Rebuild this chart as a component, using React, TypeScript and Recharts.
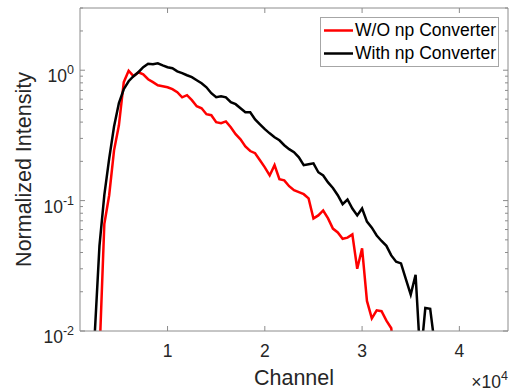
import React from 'react'
import { LineChart, Line, XAxis, YAxis, Legend } from 'recharts'

const channels = [
  2500, 3000, 3500, 4000, 4500, 5000, 5500, 6000, 6500, 7000,
  7500, 8000, 8500, 9000, 9500, 10000, 10500, 11000, 11500, 12000,
  12500, 13000, 13500, 14000, 14500, 15000, 15500, 16000, 16500, 17000,
  17500, 18000, 18500, 19000, 19500, 20000, 20500, 21000, 21500, 22000,
  22500, 23000, 23500, 24000, 24500, 25000, 25500, 26000, 26500, 27000,
  27500, 28000, 28500, 29000, 29500, 30000, 30500, 31000, 31500, 32000,
  32500, 33000, 33500, 34000, 34500, 35000, 35500, 36000, 36500, 37000,
  37500,
]

// W/O np Converter (red)
const withoutConverter = [
  null, 0.0065, 0.066, 0.11, 0.243, 0.378, 0.81, 0.99, 0.9, 0.965,
  0.93, 0.853, 0.81, 0.767, 0.754, 0.74, 0.715, 0.678, 0.62, 0.643,
  0.589, 0.53, 0.511, 0.46, 0.452, 0.399, 0.392, 0.405, 0.365, 0.323,
  0.295, 0.26, 0.24, 0.231, 0.204, 0.18, 0.156, 0.187, 0.146, 0.143,
  0.129, 0.12, 0.116, 0.112, 0.104, 0.073, 0.077, 0.084, 0.073, 0.061,
  0.057, 0.051, 0.052, 0.055, 0.03, 0.043, 0.017, 0.0125, 0.0144, 0.0142,
  0.012, 0.0105, 0.004, null, null, null, null, null, null, null,
  null,
]

// With np Converter (black)
const withConverter = [
  0.009, 0.045, 0.11, 0.21, 0.37, 0.56, 0.715, 0.823, 0.9, 0.965,
  1.054, 1.12, 1.11, 1.13, 1.09, 1.054, 1.036, 0.98, 0.95, 0.915,
  0.884, 0.838, 0.795, 0.74, 0.666, 0.62, 0.63, 0.62, 0.568, 0.549,
  0.511, 0.476, 0.476, 0.42, 0.385, 0.353, 0.328, 0.306, 0.29, 0.266,
  0.248, 0.235, 0.215, 0.187, 0.19, 0.193, 0.165, 0.156, 0.138, 0.125,
  0.11, 0.094, 0.102, 0.087, 0.077, 0.087, 0.069, 0.062, 0.054, 0.049,
  0.045, 0.038, 0.034, 0.033, 0.025, 0.019, 0.027, 0.006, 0.015, 0.0148,
  0.0075,
]

const xTicks = [10000, 20000, 30000, 40000]
const yTicks = [
  0.01, 0.02, 0.03, 0.04, 0.05, 0.06, 0.07, 0.08, 0.09,
  0.1, 0.2, 0.3, 0.4, 0.5, 0.6, 0.7, 0.8, 0.9,
  1, 2, 3,
]
const yMajorLabels: Record<string, string> = { '0.01': '-2', '0.1': '-1', '1': '0' }

const data = channels.map((c, i) => ({
  channel: c,
  without: withoutConverter[i],
  with: withConverter[i],
}))

const FONT = '"Liberation Sans", Arial, sans-serif'
const AXIS = '#8c8c8c'
const TEXT = '#262626'

const isMajor = (v: number) => yMajorLabels[String(v)] !== undefined

function LeftTick({ x, y, payload }: any) {
  const v = payload.value
  const major = isMajor(v)
  return (
    <g>
      <line x1={x} x2={x + (major ? 5 : 3)} y1={y} y2={y} stroke={AXIS} />
      {major && (
        <text x={x - 6} y={y + 12} textAnchor="end" fill={TEXT} fontFamily={FONT} fontSize={17.5}>
          10<tspan dy={-8} fontSize={12.5}>{yMajorLabels[String(v)]}</tspan>
        </text>
      )}
    </g>
  )
}

function RightTick({ x, y, payload }: any) {
  const major = isMajor(payload.value)
  return <line x1={x} x2={x - (major ? 5 : 3)} y1={y} y2={y} stroke={AXIS} />
}

function BottomTick({ x, y, payload }: any) {
  return (
    <g>
      <line x1={x} x2={x} y1={y} y2={y - 5} stroke={AXIS} />
      <text x={x} y={y + 26} textAnchor="middle" fill={TEXT} fontFamily={FONT} fontSize={17.5}>
        {payload.value / 10000}
      </text>
    </g>
  )
}

function TopTick({ x, y }: any) {
  return <line x1={x} x2={x} y1={y} y2={y + 5} stroke={AXIS} />
}

function XLabel({ viewBox }: any) {
  const { x, y, width } = viewBox
  return (
    <g fontFamily={FONT} fill={TEXT}>
      <text x={x + width / 2} y={y + 54} textAnchor="middle" fontSize={21.5}>Channel</text>
      <text x={x + width} y={y + 57} textAnchor="end" fontSize={17.5}>
        ×10<tspan dy={-8} fontSize={12.5}>4</tspan>
      </text>
    </g>
  )
}

function YLabel({ viewBox }: any) {
  const { x, y, height } = viewBox
  const cx = x + 31
  const cy = y + height / 2
  return (
    <text x={cx} y={cy} transform={`rotate(-90 ${cx} ${cy})`} textAnchor="middle"
      fontFamily={FONT} fontSize={21.5} fill={TEXT}>
      Normalized Intensity
    </text>
  )
}

function LegendBox({ payload }: any) {
  return (
    <div style={{
      boxSizing: 'border-box', width: 179, height: 50, border: '1px solid #a6a6a6',
      background: '#fff', display: 'flex', flexDirection: 'column', justifyContent: 'center',
      fontFamily: FONT, fontSize: 17.5, color: '#000',
    }}>
      {(payload || []).map((p: any) => (
        <div key={p.value} style={{ display: 'flex', alignItems: 'center', height: 23 }}>
          <svg width={34} height={23} style={{ display: 'block' }}>
            <line x1={3} x2={32} y1={11.5} y2={11.5} stroke={p.color} strokeWidth={2.5} />
          </svg>
          <span style={{ lineHeight: '23px', whiteSpace: 'nowrap' }}>{p.value}</span>
        </div>
      ))}
    </div>
  )
}

export default function App() {
  return (
    <div style={{ position: 'absolute', left: 0, top: 0, background: '#fff' }}>
      <LineChart width={512} height={392} data={data} margin={{ top: 0, right: 0, bottom: 0, left: 0 }}>
        <XAxis xAxisId="bottom" dataKey="channel" type="number" domain={[1000, 45000]} allowDataOverflow
          ticks={xTicks} interval={0} tickSize={0} tickMargin={0} tick={<BottomTick />}
          axisLine={{ stroke: AXIS }} tickLine={false} height={61} label={<XLabel />} />
        <XAxis xAxisId="top" orientation="top" dataKey="channel" type="number" domain={[1000, 45000]}
          allowDataOverflow ticks={xTicks} interval={0} tickSize={0} tickMargin={0} tick={<TopTick />}
          axisLine={{ stroke: AXIS }} tickLine={false} height={8} />
        <YAxis yAxisId="left" scale="log" type="number" domain={[0.01, 3]} allowDataOverflow
          ticks={yTicks} interval={0} tickSize={0} tickMargin={0} tick={<LeftTick />}
          axisLine={{ stroke: AXIS }} tickLine={false} width={80} label={<YLabel />} />
        <YAxis yAxisId="right" orientation="right" scale="log" type="number" domain={[0.01, 3]}
          allowDataOverflow ticks={yTicks} interval={0} tickSize={0} tickMargin={0} tick={<RightTick />}
          axisLine={{ stroke: AXIS }} tickLine={false} width={4} />
        <Legend layout="vertical" align="center" verticalAlign="middle" content={<LegendBox />}
          wrapperStyle={{ top: 17, left: 320, width: 179, height: 50 }} />
        <Line xAxisId="bottom" yAxisId="left" type="linear" dataKey="without" name="W/O np Converter"
          stroke="#ff0000" strokeWidth={2.5} dot={false} isAnimationActive={false} />
        <Line xAxisId="bottom" yAxisId="left" type="linear" dataKey="with" name="With np Converter"
          stroke="#000000" strokeWidth={2.5} dot={false} isAnimationActive={false} />
      </LineChart>
    </div>
  )
}
